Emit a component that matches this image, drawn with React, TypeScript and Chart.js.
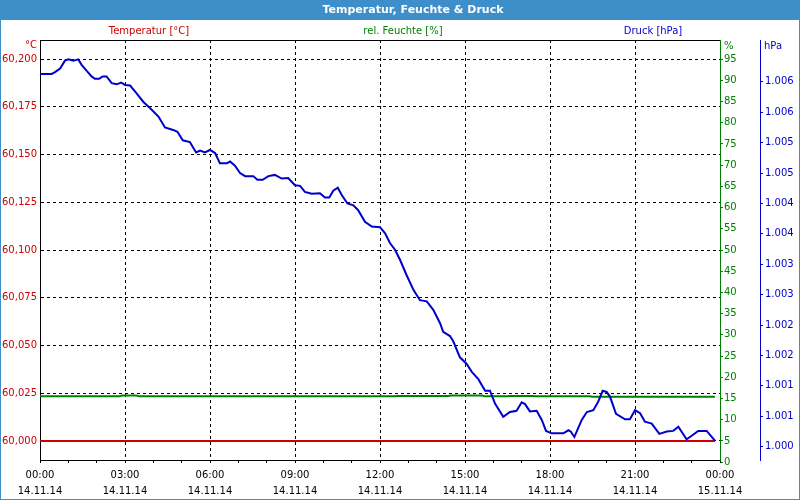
import React, { useEffect, useRef } from 'react';
import { Chart, registerables } from 'chart.js';

Chart.register(...registerables);

// ---------- text ----------
const TITLE = 'Temperatur, Feuchte & Druck';
const SERIES_NAMES = ['Temperatur [°C]', 'rel. Feuchte [%]', 'Druck [hPa]'];
const UNIT_LABELS = ['°C', '%', 'hPa'];
const TIME_LABELS = ['00:00', '03:00', '06:00', '09:00', '12:00', '15:00', '18:00', '21:00', '00:00'];
const DATE_LABELS = ['14.11.14', '14.11.14', '14.11.14', '14.11.14', '14.11.14', '14.11.14', '14.11.14', '14.11.14', '15.11.14'];

// ---------- data (time in hours since 14.11.14 00:00) ----------
const pressureHours = [
  0, 0.41, 0.53, 0.71, 0.88, 1.0, 1.18, 1.35, 1.47, 1.65, 1.82, 1.94, 2.09, 2.21, 2.35, 2.53, 2.71, 2.86,
  3.0, 3.18, 3.41, 3.65, 3.88, 4.18, 4.41, 4.7, 4.85, 5.04, 5.29, 5.51, 5.65, 5.82, 6.0, 6.18, 6.35, 6.59,
  6.71, 6.88, 7.06, 7.24, 7.53, 7.67, 7.86, 8.06, 8.29, 8.53, 8.76, 9.0, 9.18, 9.35, 9.59, 9.88, 10.06,
  10.21, 10.35, 10.51, 10.65, 10.85, 11.06, 11.23, 11.47, 11.71, 12.0, 12.18, 12.35, 12.53, 12.71, 12.94,
  13.18, 13.41, 13.65, 13.88, 14.12, 14.23, 14.47, 14.59, 14.82, 15.06, 15.24, 15.47, 15.71, 15.88, 16.06,
  16.35, 16.59, 16.82, 17.0, 17.12, 17.29, 17.53, 17.71, 17.86, 18.06, 18.47, 18.65, 18.73, 18.86, 19.12,
  19.3, 19.53, 19.7, 19.86, 20.0, 20.12, 20.33, 20.65, 20.82, 21.0, 21.18, 21.35, 21.59, 21.86, 22.12,
  22.35, 22.53, 22.82, 23.0, 23.23, 23.53, 23.82,
];
const pressureValues = [
  1006.13, 1006.13, 1006.16, 1006.22, 1006.35, 1006.37, 1006.35, 1006.37, 1006.28, 1006.18, 1006.09, 1006.05,
  1006.05, 1006.09, 1006.09, 1005.98, 1005.96, 1005.99, 1005.95, 1005.94, 1005.81, 1005.67, 1005.57, 1005.43,
  1005.25, 1005.21, 1005.18, 1005.04, 1005.01, 1004.84, 1004.87, 1004.84, 1004.88, 1004.83, 1004.66, 1004.66,
  1004.69, 1004.62, 1004.5, 1004.45, 1004.45, 1004.39, 1004.39, 1004.45, 1004.47, 1004.41, 1004.42, 1004.3,
  1004.29, 1004.19, 1004.16, 1004.17, 1004.1, 1004.1, 1004.21, 1004.26, 1004.14, 1004.0, 1003.97, 1003.89,
  1003.7, 1003.62, 1003.61, 1003.51, 1003.35, 1003.24, 1003.07, 1002.82, 1002.58, 1002.41, 1002.39, 1002.25,
  1002.03, 1001.89, 1001.82, 1001.73, 1001.47, 1001.36, 1001.23, 1001.11, 1000.92, 1000.92, 1000.71,
  1000.49, 1000.57, 1000.59, 1000.73, 1000.7, 1000.58, 1000.59, 1000.44, 1000.26, 1000.22, 1000.22,
  1000.27, 1000.25, 1000.16, 1000.44, 1000.57, 1000.6, 1000.74, 1000.92, 1000.9, 1000.82, 1000.54, 1000.45,
  1000.45, 1000.6, 1000.55, 1000.41, 1000.38, 1000.21, 1000.25, 1000.26, 1000.33, 1000.12, 1000.18, 1000.26,
  1000.26, 1000.1,
];
const humidityHours = [0, 2.8, 2.9, 3.4, 3.5, 8.0, 12.5, 12.6, 14.4, 14.5, 15.6, 15.7, 16.5, 16.6, 17.4, 17.5, 19.4, 19.5, 23.82];
const humidityValues = [15.5, 15.5, 15.7, 15.7, 15.5, 15.5, 15.5, 15.6, 15.6, 15.7, 15.7, 15.5, 15.5, 15.6, 15.6, 15.5, 15.5, 15.4, 15.4];
const temperatureHours = [0, 23.82];
const temperatureValues = [60.0, 60.0];

// ---------- ticks ----------
const HOUR_TICKS = Array.from({ length: 25 }, (_, i) => i);
const TEMP_TICKS = [60.0, 60.025, 60.05, 60.075, 60.1, 60.125, 60.15, 60.175, 60.2];
const HUM_TICKS = [0, 5, 10, 15, 20, 25, 30, 35, 40, 45, 50, 55, 60, 65, 70, 75, 80, 85, 90, 95];
const PRESS_TICKS = [1000, 1000.5, 1001, 1001.5, 1002, 1002.5, 1003, 1003.5, 1004, 1004.5, 1005, 1005.5, 1006];

const FONT = '"DejaVu Sans", sans-serif';
const RED = '#cc0000';
const GREEN = '#008000';
const BLUE = '#0000cc';
const BAR = '#3d8ec9';

const toPoints = (xs: number[], ys: number[]) => xs.map((x, i) => ({ x, y: ys[i] }));

const decor = {
  id: 'decor',
  beforeDraw(chart: any) {
    const { ctx, width } = chart;
    ctx.save();
    ctx.fillStyle = '#ffffff';
    ctx.fillRect(0, 0, width, chart.height);
    ctx.fillStyle = BAR;
    ctx.fillRect(0, 0, width, 20);
    ctx.restore();
  },
  afterDraw(chart: any) {
    const { ctx, chartArea: a, width, height } = chart;
    ctx.save();
    ctx.strokeStyle = '#000';
    ctx.lineWidth = 1;
    ctx.beginPath();
    ctx.moveTo(a.left, a.top + 0.5);
    ctx.lineTo(a.right, a.top + 0.5);
    ctx.stroke();

    ctx.strokeStyle = BAR;
    ctx.strokeRect(0.5, 0.5, width - 1, height - 1);

    ctx.textBaseline = 'middle';
    ctx.textAlign = 'center';
    ctx.fillStyle = '#ffffff';
    ctx.font = `bold 11px ${FONT}`;
    ctx.fillText(TITLE, 413, 10);

    ctx.font = `10px ${FONT}`;
    ctx.fillStyle = RED;
    ctx.fillText(SERIES_NAMES[0], 149, 31);
    ctx.fillStyle = GREEN;
    ctx.fillText(SERIES_NAMES[1], 403, 31);
    ctx.fillStyle = BLUE;
    ctx.fillText(SERIES_NAMES[2], 653, 31);

    ctx.textAlign = 'right';
    ctx.fillStyle = RED;
    ctx.fillText(UNIT_LABELS[0], a.left - 3, 45);
    ctx.textAlign = 'left';
    ctx.fillStyle = GREEN;
    ctx.fillText(UNIT_LABELS[1], a.right + 4, 46);
    const p = chart.scales.yP;
    ctx.fillStyle = BLUE;
    ctx.fillText(UNIT_LABELS[2], p.left + 4, 46);
    ctx.restore();
  },
};

export default function App() {
  const ref = useRef<HTMLCanvasElement>(null);
  useEffect(() => {
    if (!ref.current) return;
    const font = { family: FONT, size: 10 };
    const chart = new Chart(ref.current, {
      type: 'line',
      data: {
        datasets: [
          {
            label: SERIES_NAMES[2],
            data: toPoints(pressureHours, pressureValues),
            yAxisID: 'yP',
            borderColor: BLUE,
            borderWidth: 2,
            pointRadius: 0,
            tension: 0,
          },
          {
            label: SERIES_NAMES[1],
            data: toPoints(humidityHours, humidityValues),
            yAxisID: 'yH',
            borderColor: GREEN,
            borderWidth: 2,
            pointRadius: 0,
            tension: 0,
          },
          {
            label: SERIES_NAMES[0],
            data: toPoints(temperatureHours, temperatureValues),
            yAxisID: 'yT',
            borderColor: RED,
            borderWidth: 2,
            pointRadius: 0,
            tension: 0,
          },
        ],
      },
      options: {
        responsive: false,
        animation: false,
        layout: { padding: { top: 40, left: 0, right: 0, bottom: 0 } },
        plugins: { legend: { display: false }, title: { display: false }, tooltip: { enabled: false } },
        scales: {
          x: {
            type: 'linear',
            min: 0,
            max: 24,
            afterBuildTicks: (s: any) => {
              s.ticks = HOUR_TICKS.map((v) => ({ value: v }));
            },
            afterFit: (s: any) => {
              s.height = 40;
            },
            ticks: {
              autoSkip: false,
              maxRotation: 0,
              color: '#000',
              padding: 4,
              font: { family: FONT, size: 10, lineHeight: '16px' } as any,
              callback: (v: any) => (v % 3 === 0 ? [TIME_LABELS[v / 3], DATE_LABELS[v / 3]] : ''),
            },
            grid: {
              color: (c: any) => {
                const v = c.tick ? c.tick.value : 0;
                return v % 3 === 0 && v > 0 && v < 24 ? '#000' : 'rgba(0,0,0,0)';
              },
              tickColor: '#000',
              tickLength: 3,
              lineWidth: 1,
            },
            border: { color: '#000', dash: [3, 3] },
          },
          yT: {
            type: 'linear',
            position: 'left',
            min: 59.99,
            max: 60.21,
            afterBuildTicks: (s: any) => {
              s.ticks = TEMP_TICKS.map((v) => ({ value: v }));
            },
            afterFit: (s: any) => {
              s.width = 40;
            },
            ticks: {
              autoSkip: false,
              color: RED,
              padding: 3,
              font,
              callback: (v: any) => Number(v).toFixed(3).replace('.', ','),
            },
            grid: { color: '#000', drawTicks: false, lineWidth: 1 },
            border: { color: '#000', dash: [3, 3] },
          },
          yH: {
            type: 'linear',
            position: 'right',
            weight: 0,
            min: 0.5,
            max: 99.5,
            afterBuildTicks: (s: any) => {
              s.ticks = HUM_TICKS.map((v) => ({ value: v }));
            },
            afterFit: (s: any) => {
              s.width = 40;
            },
            ticks: { autoSkip: false, color: GREEN, padding: 1, font, callback: (v: any) => String(v) },
            grid: { drawOnChartArea: false, color: GREEN, tickColor: GREEN, tickLength: 3 },
            border: { color: GREEN },
          },
          yP: {
            type: 'linear',
            position: 'right',
            weight: 1,
            min: 999.781,
            max: 1006.689,
            afterBuildTicks: (s: any) => {
              s.ticks = PRESS_TICKS.map((v) => ({ value: v }));
            },
            afterFit: (s: any) => {
              s.width = 40;
            },
            ticks: {
              autoSkip: false,
              color: BLUE,
              padding: 2,
              font,
              callback: (v: any) => (Math.round(Number(v)) / 1000).toFixed(3),
            },
            grid: { drawOnChartArea: false, color: BLUE, tickColor: BLUE, tickLength: 3 },
            border: { color: BLUE },
          },
        },
      } as any,
      plugins: [decor],
    });
    return () => chart.destroy();
  }, []);
  return (
    <div style={{ position: 'fixed', left: 0, top: 0, width: 800, height: 500 }}>
      <canvas ref={ref} width={800} height={500} />
    </div>
  );
}
